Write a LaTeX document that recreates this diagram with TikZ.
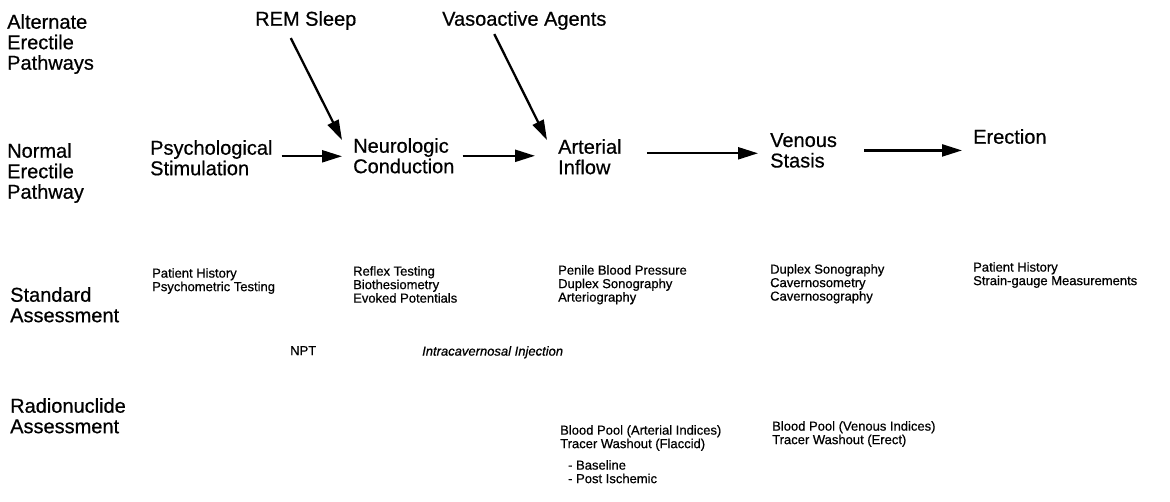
\documentclass[tikz,border=0pt]{standalone}
\usepackage{fontspec}
\setmainfont{Liberation Sans}
\newfontfamily\heavy{Liberation Sans}[FakeBold=0.6]
\newfontfamily\heavyit{Liberation Sans Italic}[FakeBold=0.6]
\usetikzlibrary{arrows.meta,calc}
\begin{document}
\begin{tikzpicture}[x=1pt,y=-1pt,
  big/.style={anchor=north west,inner sep=0pt,align=left,font=\heavy\fontsize{20}{20.5}\selectfont},
  small/.style={anchor=north west,inner sep=0pt,align=left,font=\heavy\fontsize{13}{13.5}\selectfont},
  arr/.style={line width=2.3pt,-{Triangle[length=20pt,width=12pt]}}]
\useasboundingbox (0,0) rectangle (1170,501);
% row labels
\node[big] (alt) at (7,14) {Alternate\\Erectile\\Pathways};
\node[big] (norm) at (7,143) {Normal\\Erectile\\Pathway};
\node[big] (std) at (10,287) {Standard\\Assessment};
\node[big] (rad) at (10,398) {Radionuclide\\Assessment};
% alternate pathways
\node[big] (rem) at (255,11) {REM Sleep};
\node[big] (vaso) at (442,11) {Vasoactive Agents};
% normal pathway
\node[big] (psych) at (150,140) {Psychological\\Stimulation};
\node[big] (neuro) at (353,138) {Neurologic\\Conduction};
\node[big] (art) at (558,139) {Arterial\\Inflow};
\node[big] (ven) at (770,133) {Venous\\Stasis};
\node[big] (ere) at (973,129) {Erection};
% standard assessment
\node[small] (s1) at (152,268) {Patient History\\Psychometric Testing};
\node[small] (s2) at (353,266) {Reflex Testing\\Biothesiometry\\Evoked Potentials};
\node[small] (s3) at (558,265) {Penile Blood Pressure\\Duplex Sonography\\Arteriography};
\node[small] (s4) at (770,264) {Duplex Sonography\\Cavernosometry\\Cavernosography};
\node[small] (s5) at (973,262) {Patient History\\Strain-gauge Measurements};
\node[small] (npt) at (290,346) {NPT};
\node[small,font=\heavyit\fontsize{13}{13.5}\selectfont] (ici) at (422,346) {Intracavernosal Injection};
% radionuclide assessment
\node[small] (r1) at (560,425) {Blood Pool (Arterial Indices)\\Tracer Washout (Flaccid)};
\node[small] (r1b) at (568,460) {- Baseline\\- Post Ischemic};
\node[small] (r2) at (772,421) {Blood Pool (Venous Indices)\\Tracer Washout (Erect)};
% arrows
\draw[arr] ([xshift=-15pt,yshift=-8pt]rem.south) -- ([xshift=-11pt,yshift=-2pt]neuro.north west);
\draw[arr] ([xshift=-30pt,yshift=-4pt]vaso.south) -- ([xshift=-11pt,yshift=-1pt]art.north west);
\draw[arr] ([xshift=9pt,yshift=1.5pt]psych.east) -- ([xshift=-11pt,yshift=1.5pt]psych.east -| neuro.west);
\draw[arr] ([xshift=8pt]neuro.east) -- ([xshift=-23pt]neuro.east -| art.west);
\draw[arr] ([xshift=25pt,yshift=3.5pt]art.east) -- ([xshift=-12pt,yshift=3.5pt]art.east -| ven.west);
\draw[arr] ([xshift=27pt]ven.east) -- ([xshift=-11pt]ven.east -| ere.west);
\end{tikzpicture}
\end{document}
